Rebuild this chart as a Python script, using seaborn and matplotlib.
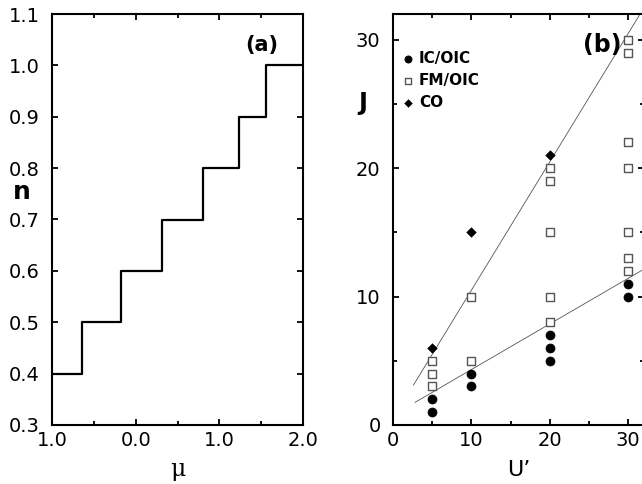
import numpy as np
import pandas as pd
import seaborn as sns
import matplotlib
matplotlib.use("Agg")
import matplotlib.pyplot as plt
from matplotlib.ticker import MultipleLocator, FixedLocator, FixedFormatter, FormatStrFormatter

# panel (a): filling n vs chemical potential (step edges)
mu_edges = [-1.0, -0.646, -0.18, 0.313, 0.799, 1.236, 1.555, 2.0]
n_levels = [0.4, 0.5, 0.6, 0.7, 0.8, 0.9, 1.0, 1.0]
mu_ticks = [-1.0, 0.0, 1.0, 2.0]
mu_ticklabels = ["1.0", "0.0", "1.0", "2.0"]

# panel (b): phase points in (U', J)
ic_u = [5, 5, 10, 10, 20, 20, 20, 30, 30]
ic_j = [1, 2, 3, 4, 5, 6, 7, 10, 11]
fm_u = [5, 5, 5, 10, 10, 20, 20, 20, 20, 20, 30, 30, 30, 30, 30, 30, 30]
fm_j = [3, 4, 5, 5, 10, 8, 10, 15, 19, 20, 12, 13, 15, 20, 22, 29, 30]
co_u = [5, 10, 20]
co_j = [6, 15, 21]

# boundary lines
upper_u = [2.6, 34.0]
upper_j = [3.1, 34.5]
lower_u = [2.8, 34.0]
lower_j = [1.76, 12.85]

sns.set_style("ticks")
plt.rcParams['font.family'] = ['DejaVu Sans']
plt.rcParams['axes.linewidth'] = 1.5
plt.rcParams['text.color'] = 'black'
plt.rcParams['axes.labelcolor'] = 'black'

fig = plt.figure(figsize=(6.42, 4.84), dpi=100)
W, H = 642, 484
ax1 = fig.add_axes([52 / W, 59 / H, 251 / W, 411 / H])
ax2 = fig.add_axes([393 / W, 59 / H, 251 / W, 411 / H])


def style_ticks(ax):
    ax.tick_params(which='both', direction='in', top=True, right=True,
                   labelsize=14, width=1.3, colors='black')
    ax.tick_params(axis='y', which='both', pad=9)
    ax.tick_params(axis='x', which='both', pad=4)
    ax.tick_params(which='major', length=4.5)
    ax.tick_params(which='minor', length=3)
    for s in ax.spines.values():
        s.set_color('black')
        s.set_linewidth(1.5)


# ---- panel (a)
steps = pd.DataFrame({"mu": mu_edges, "n": n_levels})
sns.lineplot(data=steps, x="mu", y="n", drawstyle="steps-post", color="black",
             linewidth=1.6, ax=ax1, sort=False)
ax1.set_xlim(-1, 2)
ax1.set_ylim(0.3, 1.1)
ax1.xaxis.set_major_locator(FixedLocator(mu_ticks))
ax1.xaxis.set_major_formatter(FixedFormatter(mu_ticklabels))
ax1.xaxis.set_minor_locator(MultipleLocator(0.5))
ax1.yaxis.set_major_locator(MultipleLocator(0.1))
ax1.yaxis.set_major_formatter(FormatStrFormatter('%.1f'))
style_ticks(ax1)
ax1.set_xlabel("μ", fontsize=17, family=['DejaVu Serif'], va='center')
ax1.set_ylabel("n", fontsize=18, fontweight='bold', rotation=0,
               va='center', ha='center')
ax1.xaxis.set_label_coords(0.5, -0.108)
ax1.yaxis.set_label_coords(-0.12, 0.567)
ax1.text(0.837, 0.925, "(a)", transform=ax1.transAxes, fontsize=15,
         fontweight='bold', ha='center', va='center', color='black')

# ---- panel (b)
sns.lineplot(x=upper_u, y=upper_j, color="#555555", linewidth=0.6, ax=ax2)
sns.lineplot(x=lower_u, y=lower_j, color="#555555", linewidth=0.6, ax=ax2)
sns.scatterplot(x=ic_u, y=ic_j, marker='o', s=42, color='black',
                edgecolor='black', ax=ax2, label="IC/OIC", zorder=3)
sns.scatterplot(x=fm_u, y=fm_j, marker='s', s=30, facecolor='white',
                edgecolor='#555555', linewidth=1.0, ax=ax2, label="FM/OIC", zorder=3)
sns.scatterplot(x=co_u, y=co_j, marker='D', s=24, color='black',
                edgecolor='black', ax=ax2, label="CO", zorder=3)
ax2.set_xlim(0, 32)
ax2.set_ylim(0, 32)
ax2.xaxis.set_major_locator(MultipleLocator(10))
ax2.xaxis.set_minor_locator(MultipleLocator(5))
ax2.yaxis.set_major_locator(MultipleLocator(10))
ax2.yaxis.set_minor_locator(MultipleLocator(5))
style_ticks(ax2)
ax2.set_xlabel("U’", fontsize=16, va='center')
ax2.set_ylabel("J", fontsize=17, fontweight='bold', rotation=0,
               va='center', ha='center')
ax2.xaxis.set_label_coords(0.5, -0.11)
ax2.yaxis.set_label_coords(-0.12, 0.783)
ax2.text(0.833, 0.925, "(b)", transform=ax2.transAxes, fontsize=17,
         fontweight='bold', ha='center', va='center', color='black')
leg = ax2.legend(loc='upper left', bbox_to_anchor=(0.0, 0.935), frameon=False,
                 prop={'weight': 'bold', 'size': 11}, handlelength=0.6,
                 handletextpad=0.4, labelspacing=0.45, borderaxespad=0.3,
                 markerscale=0.8, labelcolor='black')

fig.savefig("out.png", dpi=100)
